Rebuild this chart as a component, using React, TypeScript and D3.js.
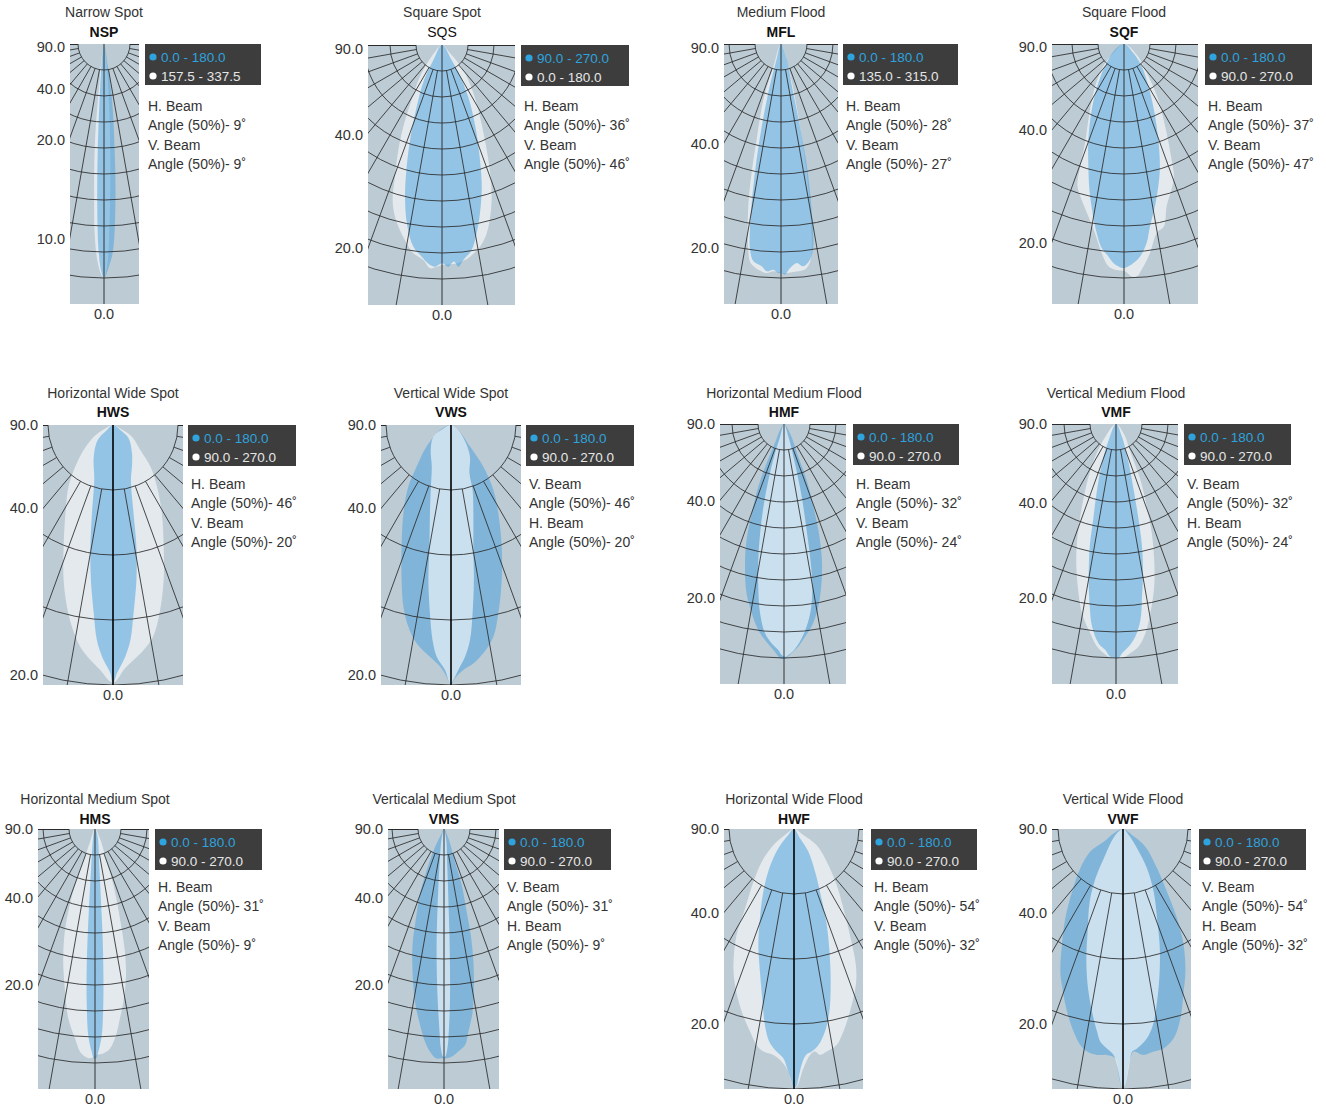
import React from "react";
import * as d3 from "d3";

type Pt = [number, number];

// ---------- DATA ----------
// Beam outlines: [lateral offset, depth] in % of the plot radius (100 = full radius)
const NSP_BLUE: Pt[] = [[0,0],[-1.0,8.7],[-1.7,21.5],[-2.4,40.8],[-2.6,60],[-2.1,79.2],[-1.0,87.6],[0,90.1],[1.9,85.6],[3.5,79.2],[4.4,60],[4.1,40.8],[3.1,21.5],[1.5,8.7]];
const NSP_WHITE: Pt[] = [[0,0],[-1,6.2],[-1.9,16.4],[-2.9,28],[-3.6,40.8],[-3.8,60],[-3.6,72.8],[-2.6,83.1],[-1,88.8],[0,90.1],[1.2,85.6],[2.2,66.4],[2.4,40.8],[1.9,21.5],[0.9,6.2]];

const SQS_BLUE: Pt[] = [[0,0],[3.7,5.8],[7.6,13.5],[10.8,22.4],[13.3,34],[14.6,44.2],[15.3,54.5],[14.6,64.7],[13.3,72.4],[11.4,78.8],[8.2,82.7],[6.3,85.3],[4.6,83.3],[2.4,85.3],[0.5,84],[-1.4,84.6],[-2.7,85.3],[-5.3,84],[-7.8,81.4],[-11,77.6],[-13.3,69.9],[-14.2,59.6],[-13.8,49.4],[-12.3,36.5],[-9.7,23.7],[-6.9,13.5],[-3.3,5.8]];
const SQS_WHITE: Pt[] = [[0,0],[3.1,3.2],[8.2,9.6],[12.1,18.6],[14.6,27.6],[16.5,36.5],[18.2,46.8],[19.1,57.1],[18.7,64.7],[17.2,72.4],[14.6,77.6],[10.8,81.4],[8.8,82.7],[5.6,84],[0,84.6],[-2.1,85.3],[-4.6,85.9],[-7.2,82.7],[-11,80.1],[-13.6,76.3],[-16.2,71.2],[-18.1,66],[-19,59.6],[-18.1,50.6],[-16.8,40.4],[-14.9,31.4],[-11.7,21.2],[-8.5,12.2],[-3.1,3.2]];

const MFL_BLUE: Pt[] = [[0,0],[2.2,6],[4.7,18.8],[7.3,31.7],[9.6,44.5],[11.2,57.3],[12.2,70.1],[12.4,77.8],[11.2,82.9],[8.6,85.5],[6,84.2],[3.5,86.2],[1.5,88.7],[0.3,88.1],[-1,88.1],[-2.9,86.8],[-5.5,87.4],[-7.4,85.5],[-10.6,83.6],[-11.9,79.1],[-11.9,70.1],[-10.9,57.3],[-9.4,44.5],[-7.4,31.7],[-4.9,18.8],[-1.7,6]];
const MFL_WHITE: Pt[] = [[0,0],[2.8,8.6],[6.7,27.8],[9.6,47],[11.4,66.3],[11.8,77.8],[11.3,83.5],[9.5,86.5],[6,87.5],[0.9,88.1],[-2.9,87.4],[-5.5,88.1],[-8.7,86.8],[-11.7,84.2],[-12.6,79.1],[-12.6,62.4],[-11.3,49.6],[-9.4,36.8],[-6.8,21.4],[-2.9,8.6]];

const SQF_BLUE: Pt[] = [[0,0],[3.6,3.5],[6.8,8.6],[9.4,16.3],[11.5,25.3],[13.2,36.8],[13.8,47.1],[13.2,54.7],[11.9,62.4],[10,70.1],[8.7,76.5],[6.2,81.7],[3.6,84.2],[1.7,85.5],[-0.3,86.2],[-2.2,85.5],[-4.1,84.2],[-6,81.7],[-8.6,78.5],[-10.5,72.7],[-12.1,65],[-13.3,56],[-13.7,47.1],[-13.7,36.8],[-12.4,25.3],[-9.9,15],[-6.7,7.3],[-3.5,2.2]];
const SQF_WHITE: Pt[] = [[0,0],[4.9,4.1],[9.4,12.4],[13.2,21.4],[16.4,34.2],[18.3,44.5],[19.2,50.9],[18.3,56],[16.4,62.4],[15.4,70.1],[12.6,72.7],[10,80.4],[6.8,86.8],[4.9,89.4],[2.9,89.4],[0.4,87.4],[-3.5,86.8],[-6,85.5],[-8.6,80.4],[-11.2,72.7],[-13.7,66.3],[-16.3,59.9],[-17.9,54.7],[-16.9,47.1],[-15,38.1],[-13.7,29.1],[-11.8,18.8],[-8,8.6],[-4.1,3.5]];

const HWS_BLUE: Pt[] = [[0,0],[2.8,1.9],[6,5.1],[7.3,10.9],[7.3,16],[6.9,21.2],[7.9,34],[9,46.8],[9,59.6],[7.9,72.4],[6.7,82.7],[4.7,89.1],[1.5,95.5],[0.3,98.7],[-0.3,98.7],[-1,95.5],[-4.2,89.1],[-6.2,82.7],[-7.4,72.4],[-8.5,59.6],[-8.7,46.8],[-8.1,34],[-7.2,21.2],[-7.4,12.2],[-5.9,5.8],[-2.3,1.9]];
const HWS_WHITE: Pt[] = [[0,0],[2.8,1.3],[7.3,4.5],[10.5,9.6],[14.4,16],[16.9,23.7],[18.8,34],[19.5,46.8],[19.5,59.6],[17.9,72.4],[15.4,81.4],[11.8,86.5],[7.9,90.4],[4.1,94.2],[0.9,98.7],[-1,98.7],[-4.9,94.2],[-8.7,90.4],[-12.6,85.3],[-15.8,77.6],[-17.7,69.9],[-19,59.6],[-19,46.8],[-18.3,34],[-17.1,23.7],[-14.5,16],[-11.3,9.6],[-7.4,4.5],[-3.6,1.7]];

const VWS_BLUE: Pt[] = [[0,0],[2.8,1.9],[7.3,8.3],[12.4,16],[16.3,25],[18.2,34],[19.5,46.8],[19.5,59.6],[18.2,72.4],[16.3,81.4],[12.4,87.8],[8.6,91.7],[4.7,94.2],[1.5,97.4],[0.3,99.4],[-0.4,99.4],[-1.7,96.8],[-4.2,92.9],[-8.1,89.1],[-13.2,84],[-16.4,77.6],[-18.3,69.9],[-19,59.6],[-19,46.8],[-18.3,34],[-16.4,23.7],[-13.2,16],[-9.4,8.3],[-4.2,1.9]];
const VWS_WHITE: Pt[] = [[0,0],[2.8,1.9],[5.8,7.1],[7.3,12.2],[7.1,18.6],[8.3,25],[8.6,34],[8.6,46.8],[8.8,59.6],[8.3,72.4],[7.3,82.7],[5.4,89.1],[2.8,94.2],[0.9,98.1],[0.1,99.4],[-0.4,99.4],[-2.3,94.2],[-5.5,89.1],[-7.1,82.7],[-8.1,72.4],[-8.7,59.6],[-8.3,46.8],[-8.1,34],[-7.8,25],[-7.4,16],[-7.8,9.6],[-6.8,4.5],[-2.9,1.3]];

const HMF_BLUE: Pt[] = [[0,0],[2.3,3.6],[5.5,12.6],[8.7,21.5],[11.3,31.8],[13.2,40.8],[14.5,51],[14.5,60],[13.2,70.3],[10.6,77.9],[8.1,81.8],[5.5,85.6],[2.9,88.2],[0.4,90.1],[-1.5,90.1],[-3.5,87.6],[-7.3,83.1],[-9.9,79.2],[-12.4,72.8],[-14.4,65.1],[-15,54.9],[-14.4,44.6],[-12.4,34.4],[-9.9,24.1],[-6.7,15.1],[-3.5,7.4],[-1.5,2.3]];
const HMF_WHITE: Pt[] = [[0,0],[1.7,4.9],[4.2,15.1],[6.8,27.9],[8.7,40.8],[10.3,53.6],[10.9,62.6],[10.3,71.5],[8.7,77.9],[6.8,82.4],[4.9,85.6],[3.3,87.6],[1.7,88.8],[0.8,89.5],[-0.9,88.8],[-2.2,86.9],[-4.7,84.4],[-7.3,80.5],[-9.2,72.8],[-9.9,62.6],[-9.9,52.3],[-9.2,42.1],[-7.9,31.8],[-6,21.5],[-3.5,11.3],[-1.5,4.9]];

const VMF_BLUE: Pt[] = [[0,0],[2.3,4.9],[4.9,15.1],[6.8,25.4],[8.7,36.9],[10,47.2],[10.4,57.4],[10,66.4],[9.4,75.4],[7.4,81.8],[4.9,85.6],[2.3,88.2],[1,90.1],[-0.3,90.1],[-2.2,89.5],[-4.1,86.9],[-6.7,84.4],[-9.2,77.9],[-10.1,70.3],[-10.5,60],[-10.1,47.2],[-8.8,36.9],[-7.3,25.4],[-5.4,15.1],[-2.8,6.2]];
const VMF_WHITE: Pt[] = [[0,0],[2.9,3.6],[6.2,12.6],[9.4,21.5],[11.9,31.8],[13.8,42.1],[14.7,52.3],[14.7,62.6],[13.2,72.8],[11.3,80.5],[8.7,85.6],[5.5,88.2],[2.3,90.1],[-1.5,90.1],[-4.7,88.2],[-7.3,85.6],[-9.9,80.5],[-13.1,72.8],[-14.7,62.6],[-15.3,52.3],[-14.7,42.1],[-13.1,31.8],[-10.9,21.5],[-8,12.6],[-4.1,4.9]];

const HMS_BLUE: Pt[] = [[0,0],[0.9,2.3],[1.7,15.1],[2.3,27.9],[2.9,40.8],[3.2,53.6],[3.2,66.4],[2.6,79.2],[1.3,85.6],[0.4,88.2],[-0.4,88.2],[-1.3,85.6],[-2.6,79.2],[-3.2,66.4],[-3.2,53.6],[-2.8,40.8],[-2.2,27.9],[-1.5,15.1],[-0.6,2.3]];
const HMS_WHITE: Pt[] = [[0,0],[1.9,3.6],[4.5,12.6],[7.1,21.5],[9.6,34.4],[11.5,47.2],[11.9,57.4],[10.9,66.4],[9.6,72.8],[8.1,79.2],[5.8,84.4],[3.2,86.3],[0.6,86.9],[-1.9,88.2],[-3.8,87.6],[-5.8,85.6],[-7.7,80.5],[-10.3,72.8],[-11.5,62.6],[-12.2,52.3],[-11.9,42.1],[-10.3,31.8],[-7.7,21.5],[-4.5,12.6],[-1.9,4.9]];

const VMS_BLUE: Pt[] = [[0,0],[1.7,3.6],[4.2,12.6],[6.8,21.5],[8.7,31.8],[10.3,40.8],[11.3,51],[11.5,60],[11,70.3],[9.4,77.9],[8.1,83.1],[5.5,85.6],[2.9,87.6],[1,88.2],[-0.9,88.2],[-3.1,88.2],[-5.4,85.6],[-7.3,81.8],[-9.2,75.4],[-11.2,66.4],[-12.1,54.9],[-12.1,44.6],[-10.8,34.4],[-9,24.1],[-6,13.8],[-3.1,6.2],[-0.9,1.7]];
const VMS_WHITE: Pt[] = [[0,0],[0.8,3.6],[1.3,15.1],[1.7,27.9],[2.1,40.8],[2.3,53.6],[2.3,66.4],[1.9,76.7],[1.3,84.4],[0.4,87.6],[-0.3,87.6],[-1.2,84.4],[-1.8,76.7],[-2.4,66.4],[-2.8,53.6],[-2.8,40.8],[-2.4,27.9],[-1.8,15.1],[-0.9,3.6]];

const HWF_BLUE: Pt[] = [[0,0],[2.3,3.6],[5.5,8.7],[8.1,16.4],[10,24.1],[12.6,36.9],[13.8,49.7],[14.1,60],[13.6,70.3],[11.9,77.9],[9.4,83.1],[6.8,85.6],[4.6,86.9],[2.9,90.8],[1.7,95.9],[0.8,99.1],[-0.3,99.1],[-1.3,95.9],[-2.6,92.1],[-4.1,88.2],[-6.7,85.6],[-9.5,81.8],[-11.2,75.4],[-12.1,66.4],[-13.1,54.9],[-13.7,44.6],[-13.1,34.4],[-11.8,24.1],[-9.5,15.1],[-6,7.4],[-2.2,2.3]];
const HWF_WHITE: Pt[] = [[0,0],[3.6,2.3],[8.7,6.2],[12.6,12.6],[16.4,21.5],[19,30.5],[21.5,40.8],[23.8,52.3],[23.8,60],[21.5,70.3],[19,77.9],[16.4,83.1],[12.6,85.6],[10,86.9],[8.1,85.6],[6.2,86.9],[3.6,92.1],[1,99.1],[-0.3,99.1],[-2.2,93.3],[-4.7,89.5],[-7.9,86.9],[-11.8,85.6],[-14.4,83.1],[-16.9,77.9],[-20.1,70.3],[-22.7,60],[-23.3,52.3],[-22.1,40.8],[-18.8,30.5],[-15.6,20.3],[-12.4,12.6],[-7.9,6.2],[-2.8,1.7]];

const VWF_BLUE: Pt[] = [[0,0],[3.5,2.3],[8.6,6.8],[13.1,15.1],[16.9,24.1],[20.8,34.4],[23.3,44.6],[24,54.9],[23.3,62.6],[22.1,72.8],[19.5,80.5],[15.6,84.4],[11.8,85.6],[7.9,86.9],[4.1,85.6],[2.8,88.2],[1.5,94.6],[0.5,99.1],[-0.4,99.1],[-1.7,94.6],[-2.9,88.2],[-6.2,86.9],[-10,86.9],[-13.8,85.6],[-16.4,83.1],[-19,77.9],[-21.5,70.3],[-23.5,60],[-24.1,54.9],[-23.5,44.6],[-22.2,34.4],[-19.6,24.1],[-16.4,15.1],[-12.6,8.7],[-7.4,4.9],[-3.6,1.7]];
const VWF_WHITE: Pt[] = [[0,0],[2.2,2.3],[5.4,7.4],[9.2,15.1],[11.8,24.1],[13.1,34.4],[14.1,44.6],[14.1,54.9],[13.1,66.4],[11.5,75.4],[9.2,80.5],[5.4,84.4],[3.5,85.6],[2.6,89.5],[1.5,95.9],[0.5,99.1],[-0.4,99.1],[-1.3,95.9],[-2.3,90.8],[-3.6,86.9],[-6.2,84.4],[-8.7,81.8],[-10,77.9],[-11.9,70.3],[-13.6,60],[-14.1,49.7],[-13.6,39.5],[-12.8,27.9],[-10.6,19],[-7.4,11.3],[-2.9,2.3]];

const PANEL_TITLES = ["Narrow Spot", "Square Spot", "Medium Flood", "Square Flood", "Horizontal Wide Spot", "Vertical Wide Spot", "Horizontal Medium Flood", "Vertical Medium Flood", "Horizontal Medium Spot", "Verticalal Medium Spot", "Horizontal Wide Flood", "Vertical Wide Flood"];
const PANEL_CODES = ["NSP", "SQS", "MFL", "SQF", "HWS", "VWS", "HMF", "VMF", "HMS", "VMS", "HWF", "VWF"];
const BLUE_PLANES = ["0.0 - 180.0", "90.0 - 270.0", "0.0 - 180.0", "0.0 - 180.0", "0.0 - 180.0", "0.0 - 180.0", "0.0 - 180.0", "0.0 - 180.0", "0.0 - 180.0", "0.0 - 180.0", "0.0 - 180.0", "0.0 - 180.0"];
const WHITE_PLANES = ["157.5 - 337.5", "0.0 - 180.0", "135.0 - 315.0", "90.0 - 270.0", "90.0 - 270.0", "90.0 - 270.0", "90.0 - 270.0", "90.0 - 270.0", "90.0 - 270.0", "90.0 - 270.0", "90.0 - 270.0", "90.0 - 270.0"];
const FIRST_BEAM = ["H", "H", "H", "H", "H", "V", "H", "V", "H", "V", "H", "V"];
const FIRST_ANGLE = [9, 36, 28, 37, 46, 46, 32, 32, 31, 31, 54, 54];
const SECOND_ANGLE = [9, 46, 27, 47, 20, 20, 24, 24, 9, 9, 32, 32];
const BLUE_OUTLINES = [NSP_BLUE, SQS_BLUE, MFL_BLUE, SQF_BLUE, HWS_BLUE, VWS_BLUE, HMF_BLUE, VMF_BLUE, HMS_BLUE, VMS_BLUE, HWF_BLUE, VWF_BLUE];
const WHITE_OUTLINES = [NSP_WHITE, SQS_WHITE, MFL_WHITE, SQF_WHITE, HWS_WHITE, VWS_WHITE, HMF_WHITE, VMF_WHITE, HMS_WHITE, VMS_WHITE, HWF_WHITE, VWF_WHITE];
const BLUE_ON_TOP = [true, true, true, true, true, false, false, true, true, false, true, false];
const WIDE_GRID = [false, false, false, false, true, true, false, false, false, false, true, true];
const RINGS_NARROW = [10, 20, 30, 40, 50, 60, 70, 80, 90];
const RINGS_WIDE = [25, 50, 75, 100];
const SPOKE_ANGLES = [-80, -70, -60, -50, -40, -30, -20, -10, 10, 20, 30, 40, 50, 60, 70, 80];
const EDGE_SPOKES = [-90, 90];
// radial tick labels: [label, depth in % of radius]
const RADIAL_TICKS: [string, number][][] = [
  [["90.0", 1], ["40.0", 17.3], ["20.0", 36.9], ["10.0", 75]],
  [["90.0", 1.5], ["40.0", 34.6], ["20.0", 78]],
  [["90.0", 1.5], ["40.0", 38.5], ["20.0", 78.5]],
  [["90.0", 1.2], ["40.0", 33], ["20.0", 76.5]],
  [["90.0", 0], ["40.0", 31.9], ["20.0", 96.2]],
  [["90.0", 0], ["40.0", 31.9], ["20.0", 96.2]],
  [["90.0", 0], ["40.0", 29.6], ["20.0", 66.9]],
  [["90.0", 0], ["40.0", 30.4], ["20.0", 66.9]],
  [["90.0", 0], ["40.0", 26.5], ["20.0", 60]],
  [["90.0", 0], ["40.0", 26.5], ["20.0", 60]],
  [["90.0", 0], ["40.0", 32.3], ["20.0", 75]],
  [["90.0", 0], ["40.0", 32.3], ["20.0", 75]],
];
const CENTER_LABEL = "0.0";

// ---------- LAYOUT ----------
const LAYOUT = [
  { cx: 104, top: 44, left: 70, right: 139, legX: 145, legW: 116 },
  { cx: 442, top: 45, left: 368, right: 515, legX: 521, legW: 108 },
  { cx: 781, top: 44, left: 724, right: 838, legX: 843, legW: 115 },
  { cx: 1124, top: 44, left: 1052, right: 1198, legX: 1205, legW: 107 },
  { cx: 113, top: 425, left: 43, right: 183, legX: 188, legW: 108 },
  { cx: 451, top: 425, left: 381, right: 521, legX: 526, legW: 108 },
  { cx: 784, top: 424, left: 720, right: 846, legX: 853, legW: 106 },
  { cx: 1116, top: 424, left: 1052, right: 1178, legX: 1184, legW: 107 },
  { cx: 95, top: 829, left: 38, right: 149, legX: 155, legW: 107 },
  { cx: 444, top: 829, left: 388, right: 499, legX: 504, legW: 107 },
  { cx: 794, top: 829, left: 724, right: 863, legX: 871, legW: 106 },
  { cx: 1123, top: 829, left: 1052, right: 1191, legX: 1199, legW: 107 },
];
const TITLE_Y = [12, 393, 799];
const CODE_Y = [32, 412, 819];
const BEAM_Y0 = [106, 484, 887];
const PLOT_H = 260;
const FONT = "'Liberation Sans', Arial, sans-serif";
const BG = "#bccbd4";
const GRID = "#2a2a2a";
const BLUE = "#449fde";
const LEGEND_BLUE = "#2ea3de";

function Panel({ i }: { i: number }) {
  const L = LAYOUT[i];
  const row = Math.floor(i / 4);
  const wide = WIDE_GRID[i];
  const r = d3.scaleLinear().domain([0, 100]).range([0, PLOT_H]);
  const x = d3.scaleLinear().domain([-100, 100]).range([L.cx - PLOT_H, L.cx + PLOT_H]);
  const y = d3.scaleLinear().domain([0, 100]).range([L.top, L.top + PLOT_H]);
  const line = d3
    .line<Pt>()
    .x((d) => x(d[0]))
    .y((d) => y(d[1]))
    .curve(d3.curveCatmullRomClosed.alpha(0.5));
  const rings = wide ? RINGS_WIDE : RINGS_NARROW;
  const r0 = r(rings[0]);
  const bottom = L.top + PLOT_H;
  const clipId = `clip-${i}`;
  const lobes = [
    { pts: WHITE_OUTLINES[i], fill: "#ffffff", op: 0.58 },
    { pts: BLUE_OUTLINES[i], fill: BLUE, op: 0.5 },
  ];
  if (!BLUE_ON_TOP[i]) lobes.reverse();
  const legTop = L.top;
  const beamLines = [
    `${FIRST_BEAM[i]}. Beam`,
    `Angle (50%)- ${FIRST_ANGLE[i]}\u02DA`,
    `${FIRST_BEAM[i] === "H" ? "V" : "H"}. Beam`,
    `Angle (50%)- ${SECOND_ANGLE[i]}\u02DA`,
  ];
  const rad = (a: number) => (a * Math.PI) / 180;
  return (
    <g>
      <defs>
        <clipPath id={clipId}>
          <rect x={L.left} y={L.top} width={L.right - L.left} height={PLOT_H} />
        </clipPath>
      </defs>
      <text x={L.cx} y={TITLE_Y[row]} textAnchor="middle" dominantBaseline="central" fontSize={14} fill="#333">
        {PANEL_TITLES[i]}
      </text>
      <text x={L.cx} y={CODE_Y[row]} textAnchor="middle" dominantBaseline="central" fontSize={14} fontWeight={i === 1 ? 400 : 700} fill="#111">
        {PANEL_CODES[i]}
      </text>
      <rect x={L.left} y={L.top} width={L.right - L.left} height={PLOT_H} fill={BG} />
      <g clipPath={`url(#${clipId})`}>
        {lobes.map((lb, k) => (
          <path key={k} d={line(lb.pts) || ""} fill={lb.fill} fillOpacity={lb.op} />
        ))}
        {rings.map((rv) => (
          <circle key={rv} cx={L.cx} cy={L.top} r={r(rv)} fill="none" stroke={GRID} strokeWidth={0.85} />
        ))}
        {SPOKE_ANGLES.map((a) => (
          <line
            key={a}
            x1={L.cx + r0 * Math.sin(rad(a))}
            y1={L.top + r0 * Math.cos(rad(a))}
            x2={L.cx + r(300) * Math.sin(rad(a))}
            y2={L.top + r(300) * Math.cos(rad(a))}
            stroke={GRID}
            strokeWidth={0.85}
          />
        ))}
        <line x1={L.cx} y1={L.top} x2={L.cx} y2={bottom} stroke={wide ? "#000" : "#333"} strokeWidth={wide ? 1.6 : 1} />
      </g>
      {EDGE_SPOKES.map((a) => (
        <line
          key={a}
          x1={L.cx + r0 * Math.sin(rad(a))}
          y1={L.top + 0.5}
          x2={a < 0 ? L.left : L.right}
          y2={L.top + 0.5}
          stroke={GRID}
          strokeWidth={1}
        />
      ))}
      {RADIAL_TICKS[i].map(([lab, d]) => (
        <text key={lab} x={L.left - 5} y={y(d)} textAnchor="end" dominantBaseline="central" fontSize={14.5} fill="#333">
          {lab}
        </text>
      ))}
      <text x={L.cx} y={bottom + 10} textAnchor="middle" dominantBaseline="central" fontSize={14.5} fill="#333">
        {CENTER_LABEL}
      </text>
      <rect x={L.legX} y={legTop} width={L.legW} height={41} fill="#3d3d3d" />
      <circle cx={L.legX + 8} cy={legTop + 13} r={3.6} fill={LEGEND_BLUE} />
      <text x={L.legX + 16} y={legTop + 13} dominantBaseline="central" fontSize={13.5} fill={LEGEND_BLUE}>
        {BLUE_PLANES[i]}
      </text>
      <circle cx={L.legX + 8} cy={legTop + 32} r={3.6} fill="#ffffff" />
      <text x={L.legX + 16} y={legTop + 32} dominantBaseline="central" fontSize={13.5} fill="#e6e6e6">
        {WHITE_PLANES[i]}
      </text>
      {beamLines.map((t, k) => (
        <text key={k} x={L.legX + 3} y={BEAM_Y0[row] + k * 19.3} dominantBaseline="central" fontSize={14} fill="#333">
          {t}
        </text>
      ))}
    </g>
  );
}

export default function App() {
  return (
    <svg
      width={1326}
      height={1108}
      style={{ position: "absolute", left: 0, top: 0, background: "#fff", fontFamily: FONT }}
    >
      {PANEL_CODES.map((_, i) => (
        <Panel key={i} i={i} />
      ))}
    </svg>
  );
}
